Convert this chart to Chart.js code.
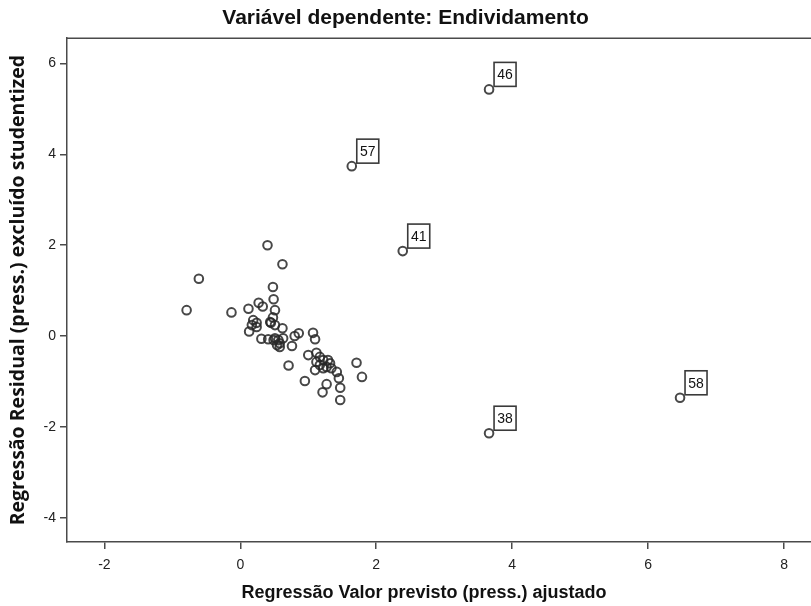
<!DOCTYPE html>
<html>
<head>
<meta charset="utf-8">
<script src="https://cdn.jsdelivr.net/npm/chart.js@4.4.1/dist/chart.umd.min.js"></script>
<style>
  html, body { margin: 0; padding: 0; background: #ffffff; overflow: hidden; }
  #wrap { width: 811px; height: 606px; }
</style>
</head>
<body>
<div id="wrap"><canvas id="c" width="811" height="606"></canvas></div>
<script>
// Adjusted predicted value vs. studentized deleted residual
const clusterPredicted = [
  0.40, 0.62, -0.61, -0.79, -0.13, 0.48, 0.49, 0.12, 0.27, 0.33,
  0.51, 0.48, 0.45, 0.19, 0.24, 0.17, 0.24, 0.13, 0.62, 0.31,
  0.51, 0.56, 0.63, 0.54, 0.58, 0.76, 0.80, 0.86, 1.07, 1.10,
  0.71, 0.95, 1.00, 1.12, 1.17, 1.12, 1.22, 1.29, 1.17, 1.27,
  1.34, 1.42, 1.10, 1.45, 1.71, 1.79, 1.27, 1.21, 1.47, 1.47,
  0.41, 0.49, 1.32, 1.22, 0.44, 0.51, 0.58
];
const clusterResidual = [
  2.00, 1.58, 1.26, 0.57, 0.52, 1.08, 0.81, 0.60, 0.73, 0.65,
  0.57, 0.41, 0.29, 0.35, 0.29, 0.24, 0.20, 0.10, 0.17, -0.06,
  -0.05, -0.09, -0.05, -0.20, -0.24, -0.22, 0.00, 0.06, 0.07, -0.07,
  -0.65, -0.99, -0.42, -0.37, -0.46, -0.57, -0.53, -0.53, -0.64, -0.68,
  -0.71, -0.79, -0.75, -0.93, -0.59, -0.90, -1.06, -1.24, -1.14, -1.41,
  -0.07, -0.09, -0.60, -0.71, 0.31, 0.24, -0.16
];

// Cases flagged with their case number
const outlierCases = ['46', '57', '41', '38', '58'];
const outlierPredicted = [3.66, 1.64, 2.39, 3.66, 6.47];
const outlierResidual = [5.43, 3.74, 1.87, -2.14, -1.36];

const xTicks = [-2, 0, 2, 4, 6, 8];
const yTicks = [-4, -2, 0, 2, 4, 6];

const chartTitle = 'Variável dependente: Endividamento';
const xTitle = 'Regressão Valor previsto (press.) ajustado';
const yTitle = 'Regressão Residual (press.) excluído studentized';

const points = clusterPredicted.map((x, i) => ({ x, y: clusterResidual[i] }))
  .concat(outlierPredicted.map((x, i) => ({ x, y: outlierResidual[i] })));

const ink = '#4a4a4a';
const tickFont = { family: "'Liberation Sans Narrow', 'Liberation Sans', Arial, sans-serif", size: 14 };

// Top edge of the plot frame
const frameTop = {
  id: 'frameTop',
  afterDraw(chart) {
    const { ctx, chartArea } = chart;
    ctx.save();
    ctx.strokeStyle = ink;
    ctx.lineWidth = 1.5;
    ctx.beginPath();
    ctx.moveTo(chartArea.left, chartArea.top);
    ctx.lineTo(chartArea.right, chartArea.top);
    ctx.stroke();
    ctx.restore();
  }
};

// Boxed case numbers next to the flagged points
const caseLabels = {
  id: 'caseLabels',
  afterDatasetsDraw(chart) {
    const { ctx, scales } = chart;
    ctx.save();
    outlierCases.forEach((id, i) => {
      const px = scales.x.getPixelForValue(outlierPredicted[i]);
      const py = scales.y.getPixelForValue(outlierResidual[i]);
      const w = 22, h = 24;
      const bx = px + 5, by = py - 3 - h;
      ctx.fillStyle = '#ffffff';
      ctx.fillRect(bx, by, w, h);
      ctx.strokeStyle = '#3a3a3a';
      ctx.lineWidth = 1.6;
      ctx.strokeRect(bx, by, w, h);
      ctx.fillStyle = '#111111';
      ctx.font = "14px 'Liberation Sans', Arial, sans-serif";
      ctx.textAlign = 'center';
      ctx.textBaseline = 'middle';
      ctx.fillText(id, bx + w / 2, by + h / 2 + 1);
    });
    ctx.restore();
  }
};

// Horizontal axis title
const xAxisTitle = {
  id: 'xAxisTitle',
  afterDraw(chart) {
    const { ctx } = chart;
    ctx.save();
    ctx.fillStyle = '#111111';
    ctx.font = "bold 18px 'Liberation Sans', Arial, sans-serif";
    ctx.textAlign = 'center';
    ctx.textBaseline = 'middle';
    ctx.fillText(xTitle, 424, 593);
    ctx.restore();
  }
};

new Chart(document.getElementById('c'), {
  type: 'scatter',
  data: {
    datasets: [{
      data: points,
      pointRadius: 4.3,
      pointHoverRadius: 4.3,
      pointBorderWidth: 2,
      pointBorderColor: 'rgba(40,40,40,0.85)',
      pointBackgroundColor: 'rgba(255,255,255,0)'
    }]
  },
  options: {
    responsive: false,
    animation: false,
    events: [],
    layout: { padding: 0, autoPadding: false },
    plugins: {
      legend: { display: false },
      tooltip: { enabled: false },
      title: {
        display: true,
        text: chartTitle,
        color: '#111111',
        font: { family: "'Liberation Sans', Arial, sans-serif", size: 21, weight: 'bold' },
        padding: { top: 6, bottom: 7 }
      }
    },
    scales: {
      x: {
        type: 'linear',
        min: -2.55,
        max: 8.397,
        afterBuildTicks: s => { s.ticks = xTicks.map(v => ({ value: v })); },
        afterFit: s => { s.height = 64; },
        grid: { drawOnChartArea: false, drawTicks: true, tickLength: 7, tickColor: ink, lineWidth: 1.5 },
        border: { display: true, color: ink, width: 1.5 },
        ticks: { color: '#222222', font: tickFont, padding: 8, maxRotation: 0 },
        title: { display: false }
      },
      y: {
        type: 'linear',
        min: -4.535,
        max: 6.557,
        afterBuildTicks: s => { s.ticks = yTicks.map(v => ({ value: v })); },
        afterFit: s => { s.width = 67; },
        grid: { drawOnChartArea: false, drawTicks: true, tickLength: 7, tickColor: ink, lineWidth: 1.5 },
        border: { display: true, color: ink, width: 1.5 },
        ticks: { color: '#222222', font: tickFont, padding: 4 },
        title: {
          display: true,
          text: yTitle,
          color: '#111111',
          font: { family: "'Open Sans', 'Liberation Sans', Arial, sans-serif", size: 19.5, weight: 'bold' },
          padding: { top: 7, bottom: 0 }
        }
      }
    }
  },
  plugins: [frameTop, caseLabels, xAxisTitle]
});
</script>
</body>
</html>
